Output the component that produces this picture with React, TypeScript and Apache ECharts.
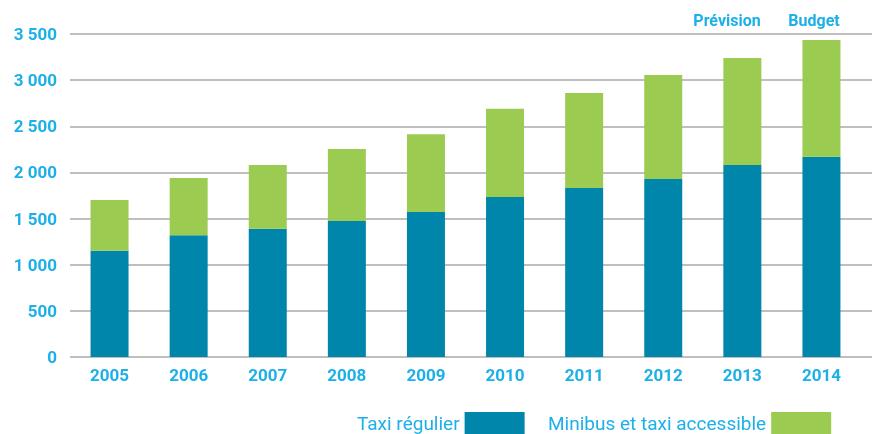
import React, { useEffect, useRef } from "react";
import * as echarts from "echarts";

const categories = ["2005", "2006", "2007", "2008", "2009", "2010", "2011", "2012", "2013", "2014"];
const taxiRegulier = [1150, 1320, 1390, 1475, 1570, 1735, 1830, 1930, 2080, 2170];
const totals = [1700, 1940, 2080, 2255, 2415, 2690, 2860, 3055, 3240, 3435];
const minibus = totals.map((t, i) => t - taxiRegulier[i]);
const yTicks = [0, 500, 1000, 1500, 2000, 2500, 3000, 3500];
const seriesNames = ["Taxi régulier", "Minibus et taxi accessible"];
const annotations = ["Prévision", "Budget"];

const BLUE = "#0085ab";
const GREEN = "#9bcb51";
const LABEL = "#1cb0e8";
const FONT = "Roboto, 'Liberation Sans', sans-serif";

export default function App() {
  const ref = useRef<HTMLDivElement>(null);
  useEffect(() => {
    if (!ref.current) return;
    const chart = echarts.init(ref.current, null, { renderer: "svg" });
    const fmt = (v: number) => String(v).replace(/\B(?=(\d{3})+(?!\d))/g, " ");
    const legendBase = {
      top: 412,
      align: "right",
      itemWidth: 60,
      itemHeight: 22,
      itemGap: 0,
      padding: 0,
      icon: "rect",
      textStyle: { color: LABEL, fontSize: 19, lineHeight: 19, fontFamily: FONT },
    };
    chart.setOption({
      animation: false,
      textStyle: { fontFamily: FONT },
      grid: [
        { left: 70, right: 11, top: 34, bottom: 77 },
        { left: 70, right: 0, top: 34, bottom: 77 },
      ],
      xAxis: [
        {
          type: "category",
          data: categories,
          gridIndex: 0,
          axisTick: { show: false },
          axisLine: { show: false },
          axisLabel: { color: LABEL, fontWeight: "bold", fontSize: 17, margin: 9, fontFamily: FONT },
        },
        { type: "value", gridIndex: 1, show: false, min: 0, max: 1 },
      ],
      yAxis: [
        {
          type: "value",
          gridIndex: 0,
          min: 0,
          max: yTicks[yTicks.length - 1],
          interval: 500,
          axisLine: { show: false },
          axisTick: { show: false },
          splitLine: { show: false },
          axisLabel: { color: LABEL, fontWeight: "bold", fontSize: 17, margin: 13, formatter: fmt, fontFamily: FONT },
        },
        {
          type: "value",
          gridIndex: 1,
          min: 0,
          max: yTicks[yTicks.length - 1],
          interval: 500,
          axisLine: { show: false },
          axisTick: { show: false },
          axisLabel: { show: false },
          splitLine: { show: true, lineStyle: { color: "#aaaaaa", width: 1.5 } },
        },
      ],
      legend: [
        { ...legendBase, data: [seriesNames[0]], left: 357 },
        { ...legendBase, data: [seriesNames[1]], left: 548 },
      ],
      graphic: [
        { type: "text", x: 727, y: 20, style: { text: annotations[0], fill: LABEL, font: `bold 16px ${FONT}`, textAlign: "center", textVerticalAlign: "middle" } },
        { type: "text", x: 814, y: 20, style: { text: annotations[1], fill: LABEL, font: `bold 16px ${FONT}`, textAlign: "center", textVerticalAlign: "middle" } },
      ],
      series: [
        {
          name: seriesNames[0],
          type: "bar",
          stack: "a",
          data: taxiRegulier,
          barWidth: 38,
          itemStyle: { color: BLUE },
          xAxisIndex: 0,
          yAxisIndex: 0,
          z: 3,
        },
        {
          name: seriesNames[1],
          type: "bar",
          stack: "a",
          data: minibus,
          barWidth: 38,
          itemStyle: { color: GREEN },
          xAxisIndex: 0,
          yAxisIndex: 0,
          z: 3,
        },
      ],
    });
    return () => chart.dispose();
  }, []);
  return <div ref={ref} style={{ position: "fixed", left: 0, top: 0, width: 872, height: 434 }} />;
}
